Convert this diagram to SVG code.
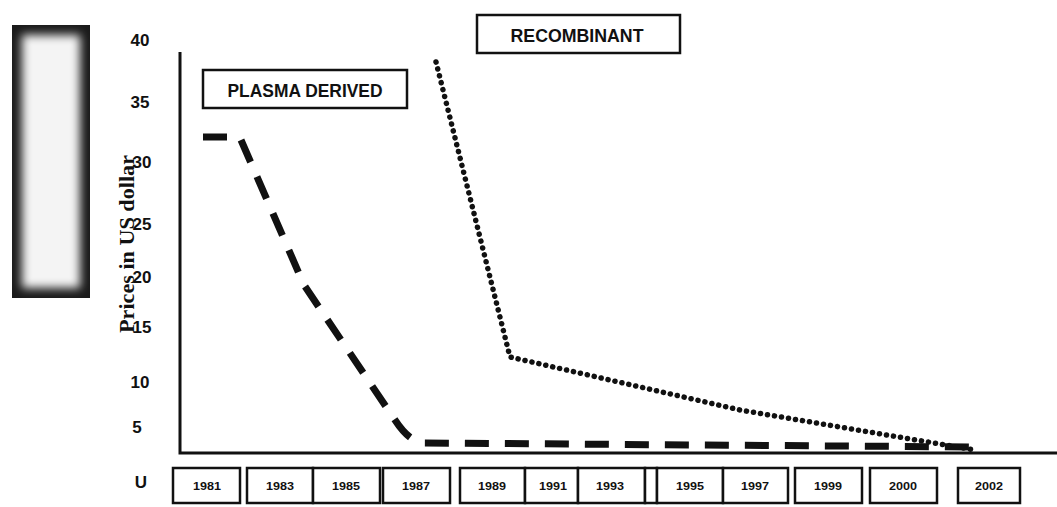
<svg xmlns="http://www.w3.org/2000/svg" width="1057" height="507" viewBox="0 0 1057 507">
<style>
.tick{font-family:"Liberation Sans",Arial,sans-serif;font-weight:bold;font-size:17px;fill:#111;text-anchor:middle}
.yr{font-family:"Liberation Sans Narrow","Liberation Sans",Arial,sans-serif;font-weight:bold;font-size:11px;fill:#111;text-anchor:middle}
.box{fill:#fff;stroke:#111;stroke-width:2.5}
.lg{font-family:"Liberation Sans Narrow","Liberation Sans",Arial,sans-serif;font-weight:bold;font-size:18px;fill:#111;text-anchor:middle}
.axis{fill:none;stroke:#111;stroke-width:3}
</style>
<defs>
<filter id="blur" x="-30%" y="-30%" width="160%" height="160%"><feGaussianBlur stdDeviation="5"/></filter>
</defs>
<rect width="1057" height="507" fill="#fff"/>
<g id="shade">
<rect x="12" y="25" width="78" height="273" fill="#1a1a1a"/>
<rect x="22" y="35" width="58" height="253" fill="#f4f4f4" filter="url(#blur)"/>
</g>
<g id="axes">
<path class="axis" d="M180,52 V453 H1057"/>
<text class="tick" x="140" y="46">40</text>
<text class="tick" x="140" y="108">35</text>
<text class="tick" x="142" y="168">30</text>
<text class="tick" x="142" y="230">25</text>
<text class="tick" x="142" y="283">20</text>
<text class="tick" x="142" y="333">15</text>
<text class="tick" x="140" y="388">10</text>
<text class="tick" x="137" y="433">5</text>
<text class="tick" x="141" y="488">U</text>
<text font-family="'Liberation Serif',serif" font-weight="bold" font-size="21" fill="#111" text-anchor="middle" textLength="178" lengthAdjust="spacingAndGlyphs" transform="translate(134,244) rotate(-90)">Prices in US dollar</text>
</g>
<g id="legend-plasma">
<rect class="box" x="203" y="70" width="204" height="38"/>
<text class="lg" x="305" y="97" textLength="155" lengthAdjust="spacingAndGlyphs">PLASMA DERIVED</text>
</g>
<g id="legend-recombinant">
<rect class="box" x="477" y="15" width="203" height="38"/>
<text class="lg" x="577" y="42" textLength="133" lengthAdjust="spacingAndGlyphs">RECOMBINANT</text>
</g>
<g id="years">
<rect class="box" x="173" y="468" width="67" height="35"/><text class="yr" x="207" y="490" textLength="28" lengthAdjust="spacingAndGlyphs">1981</text>
<rect class="box" x="247" y="468" width="66" height="35"/><text class="yr" x="280" y="490" textLength="28" lengthAdjust="spacingAndGlyphs">1983</text>
<rect class="box" x="313" y="468" width="67" height="35"/><text class="yr" x="346" y="490" textLength="28" lengthAdjust="spacingAndGlyphs">1985</text>
<rect class="box" x="383" y="468" width="67" height="35"/><text class="yr" x="416" y="490" textLength="28" lengthAdjust="spacingAndGlyphs">1987</text>
<rect class="box" x="460" y="468" width="65" height="35"/><text class="yr" x="492" y="490" textLength="28" lengthAdjust="spacingAndGlyphs">1989</text>
<rect class="box" x="525" y="468" width="53" height="35"/><text class="yr" x="553" y="490" textLength="28" lengthAdjust="spacingAndGlyphs">1991</text>
<rect class="box" x="578" y="468" width="67" height="35"/><text class="yr" x="610" y="490" textLength="28" lengthAdjust="spacingAndGlyphs">1993</text>
<rect class="box" x="645" y="468" width="12" height="35"/>
<rect class="box" x="657" y="468" width="66" height="35"/><text class="yr" x="690" y="490" textLength="28" lengthAdjust="spacingAndGlyphs">1995</text>
<rect class="box" x="723" y="468" width="65" height="35"/><text class="yr" x="755" y="490" textLength="28" lengthAdjust="spacingAndGlyphs">1997</text>
<rect class="box" x="795" y="468" width="67" height="35"/><text class="yr" x="828" y="490" textLength="28" lengthAdjust="spacingAndGlyphs">1999</text>
<rect class="box" x="870" y="468" width="67" height="35"/><text class="yr" x="903" y="490" textLength="28" lengthAdjust="spacingAndGlyphs">2000</text>
<rect class="box" x="958" y="468" width="62" height="35"/><text class="yr" x="989" y="490" textLength="28" lengthAdjust="spacingAndGlyphs">2002</text>
</g>
<g id="connectors">
<path d="M203,137 H232 M241,140 L304,285 L395,420 Q410,443 425,443 L975,447" fill="none" stroke="#111" stroke-width="7" stroke-dasharray="24 16" stroke-linecap="butt"/>
<path d="M436,62 L510,357 L740,410 L975,450" fill="none" stroke="#111" stroke-width="5.5" stroke-dasharray="0.1 7" stroke-linecap="round"/>
</g>
</svg>
